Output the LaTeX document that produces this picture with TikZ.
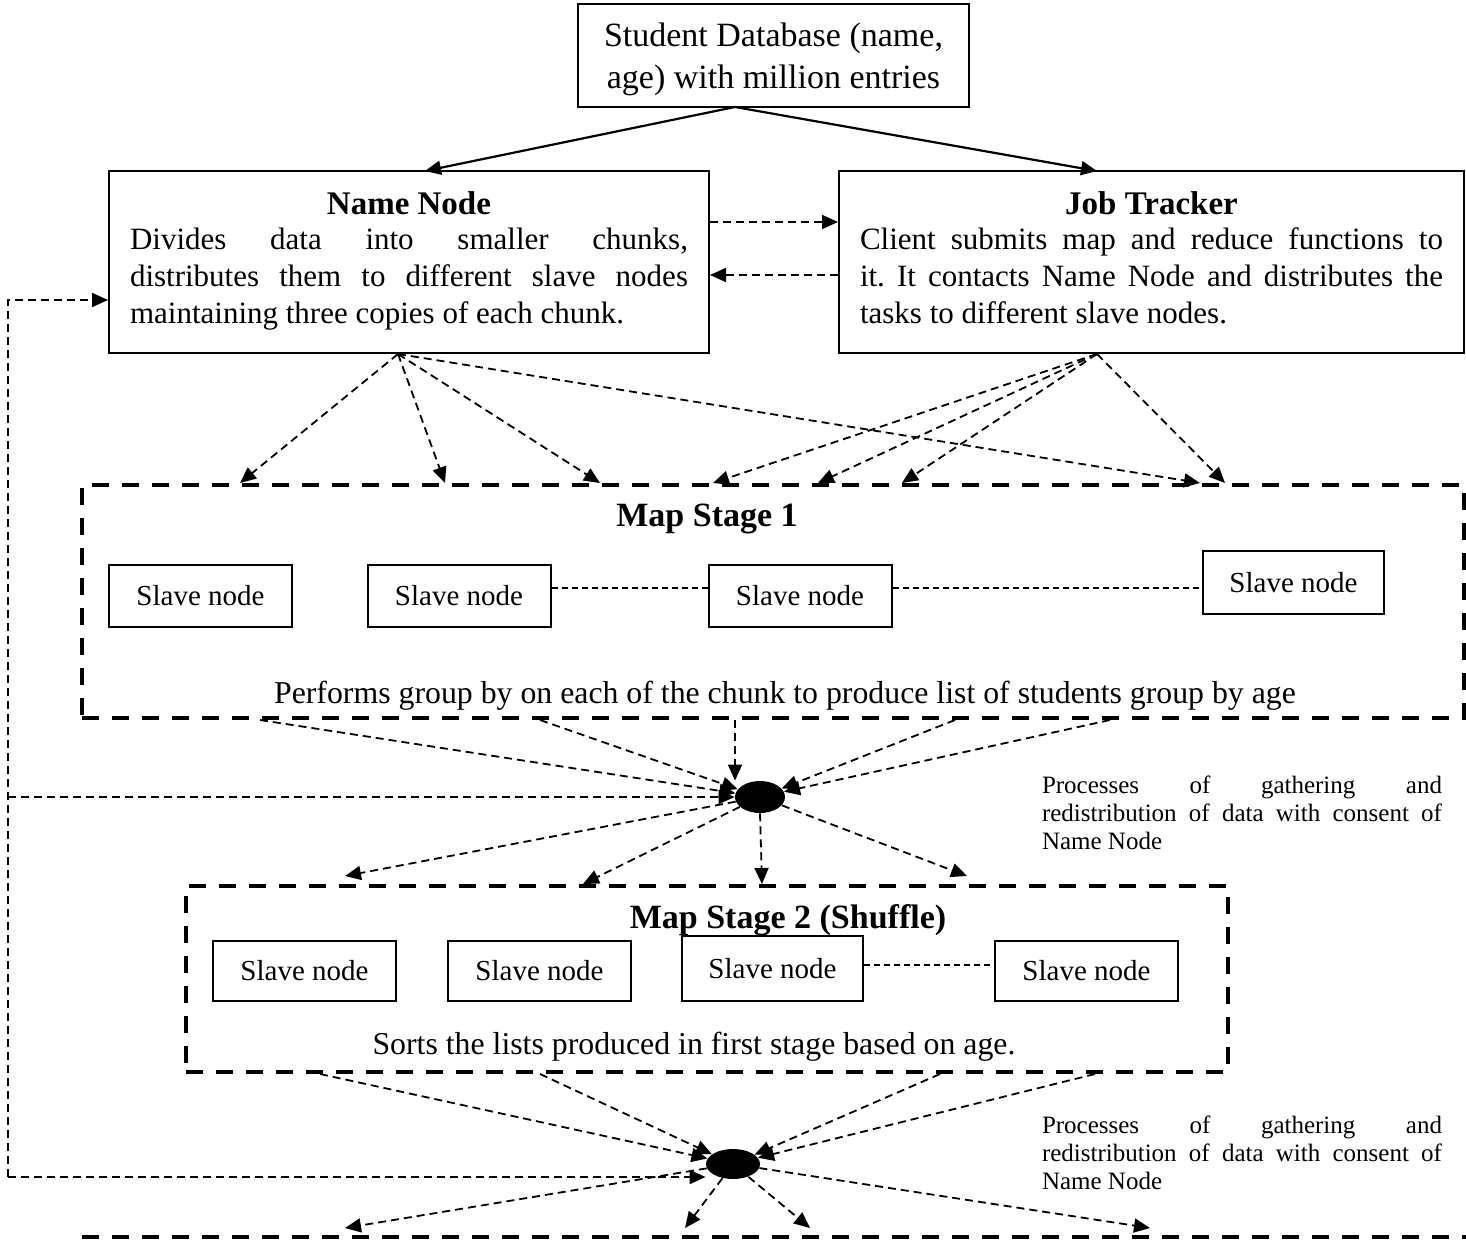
\documentclass[tikz,border=0pt]{standalone}
\usepackage{fontspec}
\setmainfont{Liberation Serif}
\usetikzlibrary{arrows.meta,shapes.geometric}

% a line of text stretched to a fixed width (justified)
\newcommand{\jline}[2]{\makebox[#1][s]{#2}}
\newcommand{\lline}[2]{\makebox[#1][l]{#2}}

\begin{document}
\frenchspacing
\begin{tikzpicture}[x=0.5pt,y=-0.5pt,
  box/.style={draw,line width=1pt,inner sep=0pt,align=center},
  txt/.style={inner sep=0pt,align=center},
  slave/.style={box,minimum width=91.5pt,minimum height=31pt,font=\fontsize{14.5}{17}\selectfont},
  stage/.style={draw,line width=2pt,dash pattern=on 8.5pt off 6.5pt,inner sep=0pt},
  conn/.style={line width=0.9pt,dash pattern=on 4pt off 2.5pt,-{Triangle[length=8pt,width=7pt]}},
  solidarrow/.style={line width=1.1pt,-{Triangle[length=8pt,width=7pt]}},
  link/.style={line width=0.7pt,dash pattern=on 3pt off 2pt},
  hub/.style={ellipse,fill=black,inner sep=0pt,minimum width=25pt,minimum height=16pt},
  stitle/.style={font=\fontsize{17}{20}\selectfont\bfseries,anchor=base,inner sep=0pt},
  scaption/.style={font=\fontsize{15.9}{18}\selectfont,anchor=base,inner sep=0pt},
  note/.style={font=\fontsize{12.5}{14}\selectfont,align=left,inner sep=0pt},
]
\useasboundingbox (0,0) rectangle (1466,1247);

% top: the database
\node[box,minimum width=195.5pt,minimum height=51.5pt] (db) at (773.5,55.5) {};
\node[txt,font=\fontsize{17}{21}\selectfont] (dbt) at (773.5,59)
  {Student Database (name,\\ age) with million entries};

% master nodes
\node[box,minimum width=300pt,minimum height=91pt] (nn) at (409,262) {};
\node[txt,font=\fontsize{15.5}{18.5}\selectfont] (nnt) at (409,261)
  {{\fontsize{16.5}{18.5}\selectfont\bfseries Name Node}\\[-1pt]
   \jline{279pt}{Divides data into smaller chunks,}\\
   \jline{279pt}{distributes them to different slave nodes}\\
   \lline{279pt}{maintaining three copies of each chunk.}};

\node[box,minimum width=312.5pt,minimum height=91pt] (jt) at (1151.5,262) {};
\node[txt,font=\fontsize{15.5}{18.5}\selectfont] (jtt) at (1151.5,258)
  {{\fontsize{16.5}{18.5}\selectfont\bfseries Job Tracker}\\[-1pt]
   \jline{291.5pt}{Client submits map and reduce functions to}\\
   \jline{291.5pt}{it. It contacts Name Node and distributes the}\\
   \lline{291.5pt}{tasks to different slave nodes.}};

% map stage 1
\node[stage,minimum width=691pt,minimum height=116.5pt] (m1) at (773,601.5) {};
\node[stitle] (m1t) at (707,526) {Map Stage 1};
\node[slave] (s11) at (200.5,596) {Slave node};
\node[slave] (s12) at (459,596) {Slave node};
\node[slave] (s13) at (800,596) {Slave node};
\node[slave,minimum width=90.5pt,minimum height=31.5pt] (s14) at (1293.5,582.5) {Slave node};
\node[scaption] (m1c) at (785,703) {Performs group by on each of the chunk to produce list of students group by age};
\draw[link] (s12.east |- 0,588) -- (s13.west |- 0,588);
\draw[link] (s13.east |- 0,588) -- (s14.west |- 0,588);

% first gathering point
\node[hub] (h1) at (760,797) {};
\node[note] (n1) at (1242,813)
  {\jline{200pt}{Processes of gathering and}\\
   \jline{200pt}{redistribution of data with consent of}\\
   \lline{200pt}{Name Node}};

% map stage 2
\node[stage,minimum width=521pt,minimum height=93pt] (m2) at (707,979) {};
\node[stitle] (m2t) at (788,928) {Map Stage 2 (Shuffle)};
\node[slave,minimum height=30pt] (s21) at (304.5,971) {Slave node};
\node[slave,minimum height=30pt] (s22) at (539.5,971) {Slave node};
\node[slave,minimum width=90.5pt,minimum height=32.5pt] (s23) at (772.5,968.5) {Slave node};
\node[slave,minimum height=30pt] (s24) at (1086.5,971) {Slave node};
\node[scaption] (m2c) at (694,1054) {Sorts the lists produced in first stage based on age.};
\draw[link] (s23.east |- 0,965) -- (s24.west |- 0,965);

% second gathering point
\node[hub,minimum width=27pt,minimum height=15pt] (h2) at (733,1164) {};
\node[note] (n2) at (1242,1153)
  {\jline{200pt}{Processes of gathering and}\\
   \jline{200pt}{redistribution of data with consent of}\\
   \lline{200pt}{Name Node}};

% top edge of the next stage
\coordinate (m3l) at (82,1237);
\coordinate (m3r) at (1466,1237);
\draw[line width=2pt,dash pattern=on 8.5pt off 6.5pt] (m3l) -- (m3r);

% database to masters
\coordinate (dbout) at (735,107);
\coordinate (nnin) at (425,171);
\coordinate (jtin) at (1097,171);
\draw[solidarrow] (dbout) -- (nnin);
\draw[solidarrow] (dbout) -- (jtin);

% Name Node <-> Job Tracker
\draw[conn] (nn.east |- 0,222) -- (jt.west |- 0,222);
\draw[conn] (jt.west |- 0,275) -- (nn.east |- 0,275);

% masters to stage 1
\coordinate (nnout) at (398,354);
\coordinate (jtout) at (1097,354);
\foreach \tx in {240,445,600,1200} \draw[conn] (nnout) -- (\tx,0 |- m1.north);
\foreach \tx in {713,818,902,1225} \draw[conn] (jtout) -- (\tx,0 |- m1.north);

% stage 1 to first gathering point
\foreach \sx in {260,540,955,1110} \draw[conn] (\sx,0 |- m1.south) -- (h1);
\draw[conn] (735,0 |- m1.south) -- (735,0 |- h1.north);

% first gathering point to stage 2
\coordinate (g1a) at (345,876);
\coordinate (g1d) at (967,876);
\draw[conn] (h1) -- (g1a);
\draw[conn] (h1) -- (583,0 |- m2.north);
\draw[conn] (h1.south) -- (762,0 |- m2.north);
\draw[conn] (h1) -- (g1d);

% stage 2 to second gathering point
\foreach \sx in {320,540,940,1095} \draw[conn] (\sx,0 |- m2.south) -- (h2);

% second gathering point to the next stage
\foreach \tx in {345,685,810,1150} \draw[conn] (h2) -- (\tx,1228);

% feedback line on the left
\coordinate (lt) at (8,300);
\coordinate (lm) at (8,797);
\coordinate (lb) at (8,1177);
\draw[conn] (lb) |- (nn.west |- lt);
\draw[conn] (lm) -- (h1.west);
\draw[conn] (lb) -- (lb -| h2.west);
\end{tikzpicture}
\end{document}
